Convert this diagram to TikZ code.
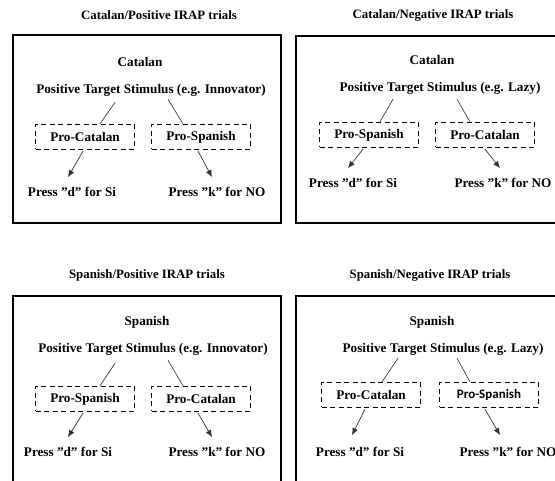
\documentclass[tikz,border=0pt]{standalone}
\usepackage{fontspec}
\setmainfont{Liberation Serif}
\newfontfamily\calfont{Carlito}
\usetikzlibrary{arrows.meta,calc}
\tikzset{
  paneltitle/.style={font=\bfseries\fontsize{12.8}{14}\selectfont, inner sep=0pt},
  txt/.style={font=\bfseries\fontsize{13.2}{15}\selectfont, inner sep=0pt},
  panelbox/.style={draw=black, line width=2.8pt},
  dbox/.style={draw=black, line width=1.3pt, dash pattern=on 5pt off 3.5pt,
    minimum width=99pt, minimum height=25pt, inner sep=0pt, font=\bfseries\fontsize{13.2}{15}\selectfont},
  link/.style={draw=black!75, line width=0.7pt},
  arr/.style={draw=black!80, line width=0.7pt, -{Latex[length=7pt,width=6pt]}}
}
\begin{document}
\begin{tikzpicture}[x=1pt,y=-1pt]
\clip (0,0) rectangle (555,481);
\fill[white] (0,0) rectangle (555,481);
% ---------- Top left ----------
\node[paneltitle] (t1) at (159,15) {Catalan/Positive IRAP trials};
\draw[panelbox] (13,35) rectangle (281,223);
\node[txt] (c1) at (140,62) {Catalan};
\node[txt] (s1) at (151,90) {Positive Target Stimulus (e.g. Innovator)};
\node[dbox] (l1) at (85,137) {Pro-Catalan};
\node[dbox] (r1) at (201,137) {Pro-Spanish};
\node[txt] (pd1) at (72,192) {Press "d" for Si};
\node[txt] (pk1) at (217,192) {Press "k" for NO};
\draw[link] ($(s1.south)+(-36,6)$) -- ($(l1.north)+(15,0)$);
\draw[link] ($(s1.south)+(17,3)$) -- ($(r1.north)+(-18,0)$);
\draw[arr] ($(l1.south)+(-2,1)$) -- ($(pd1.north)+(-4,-10)$);
\draw[arr] ($(r1.south)+(-3,1)$) -- ($(pk1.north)+(-5,-10)$);
% ---------- Top right ----------
\node[paneltitle] (t2) at (433,15) {Catalan/Negative IRAP trials};
\draw[panelbox] (296,36) rectangle (565,223);
\node[txt] (c2) at (432,60) {Catalan};
\node[txt] (s2) at (440,88) {Positive Target Stimulus (e.g. Lazy)};
\node[dbox] (l2) at (369,135) {Pro-Spanish};
\node[dbox] (r2) at (485,135) {Pro-Catalan};
\node[txt] (pd2) at (353,183) {Press "d" for Si};
\node[txt] (pk2) at (503,183) {Press "k" for NO};
\draw[link] ($(s2.south)+(-47,5)$) -- ($(l2.north)+(11,0)$);
\draw[link] ($(s2.south)+(17,5)$) -- ($(r2.north)+(-15,0)$);
\draw[arr] ($(l2.south)+(-6,1)$) -- ($(pd2.north)+(-5,-10)$);
\draw[arr] ($(r2.south)+(0,1)$) -- ($(pk2.north)+(-3,-10)$);
% ---------- Bottom left ----------
\node[paneltitle] (t3) at (147,275) {Spanish/Positive IRAP trials};
\draw[panelbox] (13,296) rectangle (281,500);
\node[txt] (c3) at (147,322) {Spanish};
\node[txt] (s3) at (153,349) {Positive Target Stimulus (e.g. Innovator)};
\node[dbox] (l3) at (85,399) {Pro-Spanish};
\node[dbox] (r3) at (201,399) {Pro-Catalan};
\node[txt] (pd3) at (68,452) {Press "d" for Si};
\node[txt] (pk3) at (217,452) {Press "k" for NO};
\draw[link] ($(s3.south)+(-38,8)$) -- ($(l3.north)+(15,0)$);
\draw[link] ($(s3.south)+(15,5)$) -- ($(r3.north)+(-18,0)$);
\draw[arr] ($(l3.south)+(-2,1)$) -- ($(pd3.north)+(0,-10)$);
\draw[arr] ($(r3.south)+(-3,1)$) -- ($(pk3.north)+(-5,-10)$);
% ---------- Bottom right ----------
\node[paneltitle] (t4) at (430,275) {Spanish/Negative IRAP trials};
\draw[panelbox] (296,296) rectangle (565,500);
\node[txt] (c4) at (432,322) {Spanish};
\node[txt] (s4) at (443,349) {Positive Target Stimulus (e.g. Lazy)};
\node[dbox] (l4) at (371,395) {Pro-Catalan};
\node[dbox, font=\calfont\bfseries\fontsize{13}{15}\selectfont] (r4) at (489,395) {Pro-Spanish};
\node[txt] (pd4) at (360,452) {Press "d" for Si};
\node[txt] (pk4) at (508,452) {Press "k" for NO};
\draw[link] ($(s4.south)+(-45,3)$) -- ($(l4.north)+(11,0)$);
\draw[link] ($(s4.south)+(14,3)$) -- ($(r4.north)+(-19,0)$);
\draw[arr] ($(l4.south)+(-6,1)$) -- ($(pd4.north)+(-8,-12)$);
\draw[arr] ($(r4.south)+(-4,1)$) -- ($(pk4.north)+(-8,-12)$);
\end{tikzpicture}
\end{document}
